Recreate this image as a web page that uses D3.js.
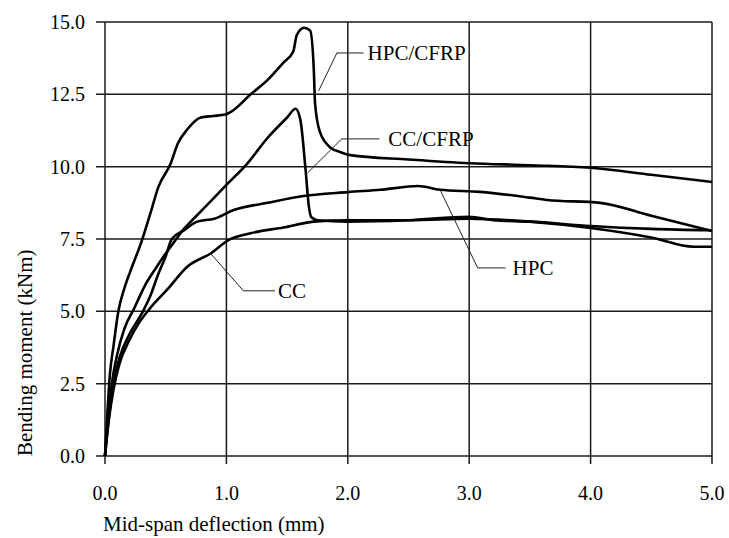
<!DOCTYPE html>
<html>
<head>
<meta charset="utf-8">
<script src="https://cdn.jsdelivr.net/npm/d3@7"></script>
<style>
    body { margin: 0; background: #fff; }
    text { font-family: "Liberation Serif", "Times New Roman", serif; fill: #000; }
</style>
</head>
<body>
<div id="chart"></div>
<script>
// values (deflection mm, moment kNm)
var hpc_cfrp_x = [0, 0.02, 0.04, 0.07, 0.11, 0.16, 0.21, 0.30, 0.375, 0.44, 0.54, 0.60, 0.68, 0.79, 0.89, 0.99, 1.06, 1.20, 1.34, 1.47, 1.55, 1.58, 1.64, 1.69, 1.72, 1.73, 1.77, 1.86, 1.94, 2.02, 2.5, 3.0, 3.5, 4.0, 4.5, 5.0];
var hpc_cfrp_y = [0, 1.5, 2.8, 3.8, 5.0, 5.8, 6.4, 7.4, 8.4, 9.3, 10.1, 10.8, 11.3, 11.7, 11.75, 11.8, 11.96, 12.5, 13.0, 13.6, 13.97, 14.55, 14.8, 14.7, 13.35, 12.2, 11.2, 10.65, 10.5, 10.4, 10.25, 10.12, 10.05, 9.96, 9.72, 9.47];

var cc_cfrp_x = [0, 0.03, 0.06, 0.10, 0.16, 0.24, 0.33, 0.42, 0.50, 0.57, 0.65, 0.73, 0.87, 1.0, 1.17, 1.34, 1.50, 1.57, 1.61, 1.65, 1.68, 1.70, 1.75, 2.0, 2.5, 3.0, 3.2, 3.5, 4.0, 4.5, 5.0];
var cc_cfrp_y = [0, 1.5, 2.6, 3.5, 4.4, 5.1, 5.9, 6.5, 7.0, 7.4, 7.85, 8.2, 8.8, 9.37, 10.1, 11.0, 11.7, 12.0, 11.6, 10.0, 8.6, 8.25, 8.15, 8.1, 8.15, 8.27, 8.15, 8.1, 7.95, 7.85, 7.8];

var hpc_x = [0, 0.03, 0.07, 0.12, 0.20, 0.30, 0.37, 0.44, 0.50, 0.55, 0.65, 0.76, 0.90, 1.06, 1.34, 1.61, 2.0, 2.27, 2.58, 2.76, 3.09, 3.5, 3.64, 4.08, 4.5, 5.0];
var hpc_y = [0, 1.3, 2.5, 3.4, 4.2, 4.9, 5.5, 6.3, 6.9, 7.5, 7.8, 8.1, 8.2, 8.5, 8.75, 8.97, 9.12, 9.2, 9.33, 9.2, 9.13, 8.93, 8.85, 8.75, 8.3, 7.78];

var cc_x = [0, 0.03, 0.07, 0.12, 0.20, 0.28, 0.37, 0.51, 0.68, 0.87, 1.02, 1.20, 1.47, 1.72, 2.0, 2.5, 3.0, 3.5, 4.0, 4.5, 4.85, 5.0];
var cc_y = [0, 1.2, 2.3, 3.2, 4.0, 4.6, 5.1, 5.74, 6.55, 7.0, 7.47, 7.7, 7.9, 8.1, 8.15, 8.15, 8.2, 8.1, 7.88, 7.55, 7.23, 7.23];

var x_ticks = [0, 1, 2, 3, 4, 5];
var y_ticks = [0, 2.5, 5, 7.5, 10, 12.5, 15];

// curve names and their leader lines (data units)
var label_names = ["HPC/CFRP", "CC/CFRP", "HPC", "CC"];
var leader_pts = [
    [[1.76, 12.62], [1.91, 13.93], [2.13, 13.93]],
    [[1.67, 9.79], [1.95, 10.96], [2.26, 10.96]],
    [[2.76, 9.2], [3.07, 6.5], [3.30, 6.5]],
    [[0.87, 7.0], [1.14, 5.71], [1.40, 5.71]]
];
var label_gap = [4, 9, 7, 3];

var draw_chart = {
    width: 729,
    height: 538,
    svg: 0,
    x: 0,
    y: 0,
    initialize: function() {
        var self = this;
        self.svg = d3.select("#chart").append("svg")
            .attr("width", self.width)
            .attr("height", self.height);
        self.x = d3.scaleLinear().domain([0, 5]).range([105, 712]);
        self.y = d3.scaleLinear().domain([0, 15]).range([456, 22]);
    },
    draw_axes: function() {
        var self = this;
        var g = self.svg.append("g");

        g.selectAll(".vgrid").data(x_ticks).enter().append("line")
            .attr("x1", function(d) { return self.x(d); })
            .attr("x2", function(d) { return self.x(d); })
            .attr("y1", self.y(15))
            .attr("y2", self.y(0) + 8)
            .attr("stroke", "#1a1a1a")
            .attr("stroke-width", 1.5);

        g.selectAll(".hgrid").data(y_ticks).enter().append("line")
            .attr("x1", self.x(0) - 9)
            .attr("x2", self.x(5))
            .attr("y1", function(d) { return self.y(d); })
            .attr("y2", function(d) { return self.y(d); })
            .attr("stroke", "#1a1a1a")
            .attr("stroke-width", 1.5);

        g.selectAll(".xlab").data(x_ticks).enter().append("text")
            .attr("x", function(d) { return self.x(d); })
            .attr("y", 500)
            .attr("text-anchor", "middle")
            .style("font-size", "20px")
            .text(function(d) { return d3.format(".1f")(d); });

        g.selectAll(".ylab").data(y_ticks).enter().append("text")
            .attr("x", 85)
            .attr("y", function(d) { return self.y(d); })
            .attr("dy", "0.35em")
            .attr("text-anchor", "end")
            .style("font-size", "20px")
            .text(function(d) { return d3.format(".1f")(d); });

        g.append("text")
            .attr("x", 103)
            .attr("y", 531)
            .style("font-size", "21px")
            .text("Mid-span deflection (mm)");

        g.append("text")
            .attr("transform", "translate(32," + self.y(0) + ") rotate(-90)")
            .style("font-size", "21px")
            .text("Bending moment (kNm)");
    },
    draw_curves: function() {
        var self = this;
        var series = [[hpc_cfrp_x, hpc_cfrp_y], [cc_cfrp_x, cc_cfrp_y], [hpc_x, hpc_y], [cc_x, cc_y]];
        var line = d3.line()
            .curve(d3.curveMonotoneX)
            .x(function(d) { return self.x(d[0]); })
            .y(function(d) { return self.y(d[1]); });

        self.svg.append("g").selectAll("path")
            .data(series)
            .enter().append("path")
            .attr("d", function(s) { return line(d3.zip(s[0], s[1])); })
            .attr("fill", "none")
            .attr("stroke", "#000")
            .attr("stroke-width", 2.6)
            .attr("stroke-linejoin", "round");

        var lead = d3.line()
            .x(function(d) { return self.x(d[0]); })
            .y(function(d) { return self.y(d[1]); });

        self.svg.append("g").selectAll("path")
            .data(leader_pts)
            .enter().append("path")
            .attr("d", lead)
            .attr("fill", "none")
            .attr("stroke", "#222")
            .attr("stroke-width", 1);

        self.svg.append("g").selectAll("text")
            .data(label_names)
            .enter().append("text")
            .attr("x", function(d, i) { return self.x(leader_pts[i][2][0]) + label_gap[i]; })
            .attr("y", function(d, i) { return self.y(leader_pts[i][2][1]); })
            .attr("dy", "0.35em")
            .style("font-size", "21px")
            .text(function(d) { return d; });
    }
};

draw_chart.initialize();
draw_chart.draw_axes();
draw_chart.draw_curves();
</script>
</body>
</html>
